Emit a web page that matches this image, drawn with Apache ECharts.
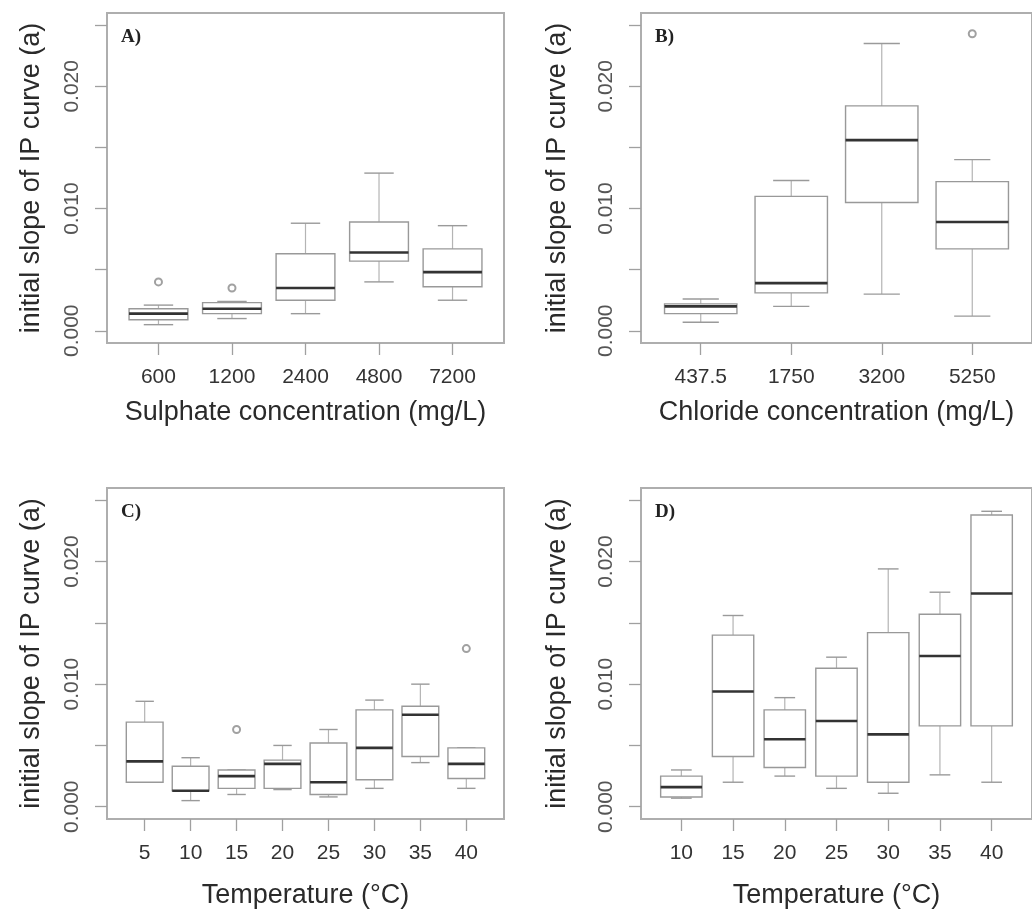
<!DOCTYPE html>
<html>
<head>
<meta charset="utf-8">
<script src="https://cdn.jsdelivr.net/npm/echarts@6/dist/echarts.min.js"></script>
<style>
  html, body { margin: 0; padding: 0; background: #ffffff; }
  #chart { width: 1032px; height: 912px; }
</style>
</head>
<body>
<div id="chart"></div>
<script>
// ---- data: box statistics are [min, Q1, median, Q3, max] per group ----
const yTitle = 'initial slope of IP curve (a)';
const yTickValues = [0, 0.005, 0.01, 0.015, 0.02, 0.025];
const yLabelValues = [0, 0.01, 0.02];

const sulphateCats = ['600', '1200', '2400', '4800', '7200'];
const sulphateStats = [
  [0.0005, 0.0009, 0.0014, 0.0018, 0.0021],
  [0.0010, 0.0014, 0.0018, 0.0023, 0.0024],
  [0.0014, 0.0025, 0.0035, 0.0063, 0.0088],
  [0.0040, 0.0057, 0.0064, 0.0089, 0.0129],
  [0.0025, 0.0036, 0.0048, 0.0067, 0.0086]
];
const sulphateOutliers = [[1, 0.0040], [2, 0.0035]];

const chlorideCats = ['437.5', '1750', '3200', '5250'];
const chlorideStats = [
  [0.0007, 0.0014, 0.0020, 0.0022, 0.0026],
  [0.0020, 0.0031, 0.0039, 0.0110, 0.0123],
  [0.0030, 0.0105, 0.0156, 0.0184, 0.0235],
  [0.0012, 0.0067, 0.0089, 0.0122, 0.0140]
];
const chlorideOutliers = [[4, 0.0243]];

const tempCatsC = ['5', '10', '15', '20', '25', '30', '35', '40'];
const tempStatsC = [
  [0.0020, 0.0020, 0.0037, 0.0069, 0.0086],
  [0.0005, 0.0013, 0.0013, 0.0033, 0.0040],
  [0.0010, 0.0015, 0.0025, 0.0030, 0.0030],
  [0.0014, 0.0015, 0.0035, 0.0038, 0.0050],
  [0.0008, 0.0010, 0.0020, 0.0052, 0.0063],
  [0.0015, 0.0022, 0.0048, 0.0079, 0.0087],
  [0.0036, 0.0041, 0.0075, 0.0082, 0.0100],
  [0.0015, 0.0023, 0.0035, 0.0048, 0.0048]
];
const tempOutliersC = [[3, 0.0063], [8, 0.0129]];

const tempCatsD = ['10', '15', '20', '25', '30', '35', '40'];
const tempStatsD = [
  [0.0007, 0.0008, 0.0016, 0.0025, 0.0030],
  [0.0020, 0.0041, 0.0094, 0.0140, 0.0156],
  [0.0025, 0.0032, 0.0055, 0.0079, 0.0089],
  [0.0015, 0.0025, 0.0070, 0.0113, 0.0122],
  [0.0011, 0.0020, 0.0059, 0.0142, 0.0194],
  [0.0026, 0.0066, 0.0123, 0.0157, 0.0175],
  [0.0020, 0.0066, 0.0174, 0.0238, 0.0241]
];
const tempOutliersD = [];

// ---- panel layout ----
const panels = [
  { tag: 'A)', cats: sulphateCats, stats: sulphateStats, outliers: sulphateOutliers,
    xTitle: 'Sulphate concentration (mg/L)',
    grid: { left: 107, top: 13, width: 397, height: 330 }, xNameGap: 56, yNameGap: 62 },
  { tag: 'B)', cats: chlorideCats, stats: chlorideStats, outliers: chlorideOutliers,
    xTitle: 'Chloride concentration (mg/L)',
    grid: { left: 641, top: 13, width: 398, height: 330 }, xNameGap: 56, yNameGap: 70 },
  { tag: 'C)', cats: tempCatsC, stats: tempStatsC, outliers: tempOutliersC,
    xTitle: 'Temperature (\u00B0C)',
    grid: { left: 107, top: 488, width: 397, height: 331 }, xNameGap: 63, yNameGap: 62 },
  { tag: 'D)', cats: tempCatsD, stats: tempStatsD, outliers: tempOutliersD,
    xTitle: 'Temperature (\u00B0C)',
    grid: { left: 641, top: 488, width: 398, height: 331 }, xNameGap: 63, yNameGap: 70 }
];

const frameColor = '#aeaeae';
const tickColor = '#a0a0a0';
const sans = 'Liberation Sans, Arial, sans-serif';

// box-and-whisker glyph in the style of R's boxplot()
function renderBox(params, api) {
  const x = api.value(0);
  const lo = api.coord([x, api.value(1)]);
  const q1 = api.coord([x, api.value(2)]);
  const md = api.coord([x, api.value(3)]);
  const q3 = api.coord([x, api.value(4)]);
  const hi = api.coord([x, api.value(5)]);
  const cx = md[0];
  const boxW = api.size([0.8, 0])[0];
  const stapleW = api.size([0.4, 0])[0];
  const whisker = { stroke: '#b4b4b4', lineWidth: 1.2 };
  const staple = { stroke: '#9a9a9a', lineWidth: 1.4 };
  return {
    type: 'group',
    children: [
      { type: 'line', shape: { x1: cx, y1: q3[1], x2: cx, y2: hi[1] }, style: whisker },
      { type: 'line', shape: { x1: cx, y1: q1[1], x2: cx, y2: lo[1] }, style: whisker },
      { type: 'line', shape: { x1: cx - stapleW / 2, y1: hi[1], x2: cx + stapleW / 2, y2: hi[1] }, style: staple },
      { type: 'line', shape: { x1: cx - stapleW / 2, y1: lo[1], x2: cx + stapleW / 2, y2: lo[1] }, style: staple },
      { type: 'rect', shape: { x: cx - boxW / 2, y: q3[1], width: boxW, height: q1[1] - q3[1] },
        style: { fill: '#ffffff', stroke: '#999999', lineWidth: 1.4 } },
      { type: 'line', shape: { x1: cx - boxW / 2, y1: md[1], x2: cx + boxW / 2, y2: md[1] },
        style: { stroke: '#333333', lineWidth: 2.6 } }
    ]
  };
}

const grid = [], xAxis = [], yAxis = [], series = [], title = [];

panels.forEach((p, i) => {
  const n = p.cats.length;
  const pad = 0.04 * n;
  const positions = p.cats.map((_, k) => k + 1);

  grid.push(Object.assign({ show: true, borderColor: frameColor, borderWidth: 2, backgroundColor: '#ffffff' }, p.grid));

  xAxis.push({
    type: 'value', gridIndex: i,
    min: 0.5 - pad, max: n + 0.5 + pad,
    axisLine: { show: false, onZero: false },
    axisTick: { show: true, customValues: positions, length: 12, lineStyle: { color: tickColor, width: 1.3 } },
    axisLabel: { customValues: positions, margin: 24, fontSize: 21, color: '#333333', fontFamily: sans,
      formatter: v => p.cats[Math.round(v) - 1] },
    splitLine: { show: false },
    name: p.xTitle, nameLocation: 'middle', nameGap: p.xNameGap,
    nameTextStyle: { fontSize: 27, color: '#2a2a2a', fontFamily: sans }
  });

  yAxis.push({
    type: 'value', gridIndex: i,
    min: -0.001, max: 0.026,
    axisLine: { show: true, onZero: false, lineStyle: { color: frameColor, width: 1.5 } },
    axisTick: { show: true, customValues: yTickValues, length: 12, lineStyle: { color: tickColor, width: 1.3 } },
    axisLabel: { customValues: yLabelValues, rotate: 90, margin: 24, fontSize: 21, color: '#555555', fontFamily: sans,
      formatter: v => v.toFixed(3) },
    splitLine: { show: false },
    name: yTitle, nameLocation: 'middle', nameRotate: 90, nameGap: p.yNameGap,
    nameTextStyle: { fontSize: 27, color: '#2a2a2a', fontFamily: sans }
  });

  series.push({
    type: 'custom', xAxisIndex: i, yAxisIndex: i,
    renderItem: renderBox,
    encode: { x: 0, y: [1, 2, 3, 4, 5] },
    data: p.stats.map((s, k) => [k + 1].concat(s)),
    silent: true
  });

  series.push({
    type: 'scatter', xAxisIndex: i, yAxisIndex: i,
    data: p.outliers,
    symbol: 'emptyCircle', symbolSize: 7,
    itemStyle: { color: '#8a8a8a', borderWidth: 1.2 },
    silent: true
  });

  title.push({
    text: p.tag,
    left: p.grid.left + 14, top: p.grid.top + 15, padding: 0,
    textStyle: { fontFamily: 'Liberation Serif, Times New Roman, serif', fontWeight: 'bold', fontSize: 19, color: '#222222' }
  });
});

const chart = echarts.init(document.getElementById('chart'), null, { renderer: 'canvas' });
chart.setOption({
  animation: false,
  backgroundColor: '#ffffff',
  title: title,
  grid: grid,
  xAxis: xAxis,
  yAxis: yAxis,
  series: series
});
</script>
</body>
</html>
